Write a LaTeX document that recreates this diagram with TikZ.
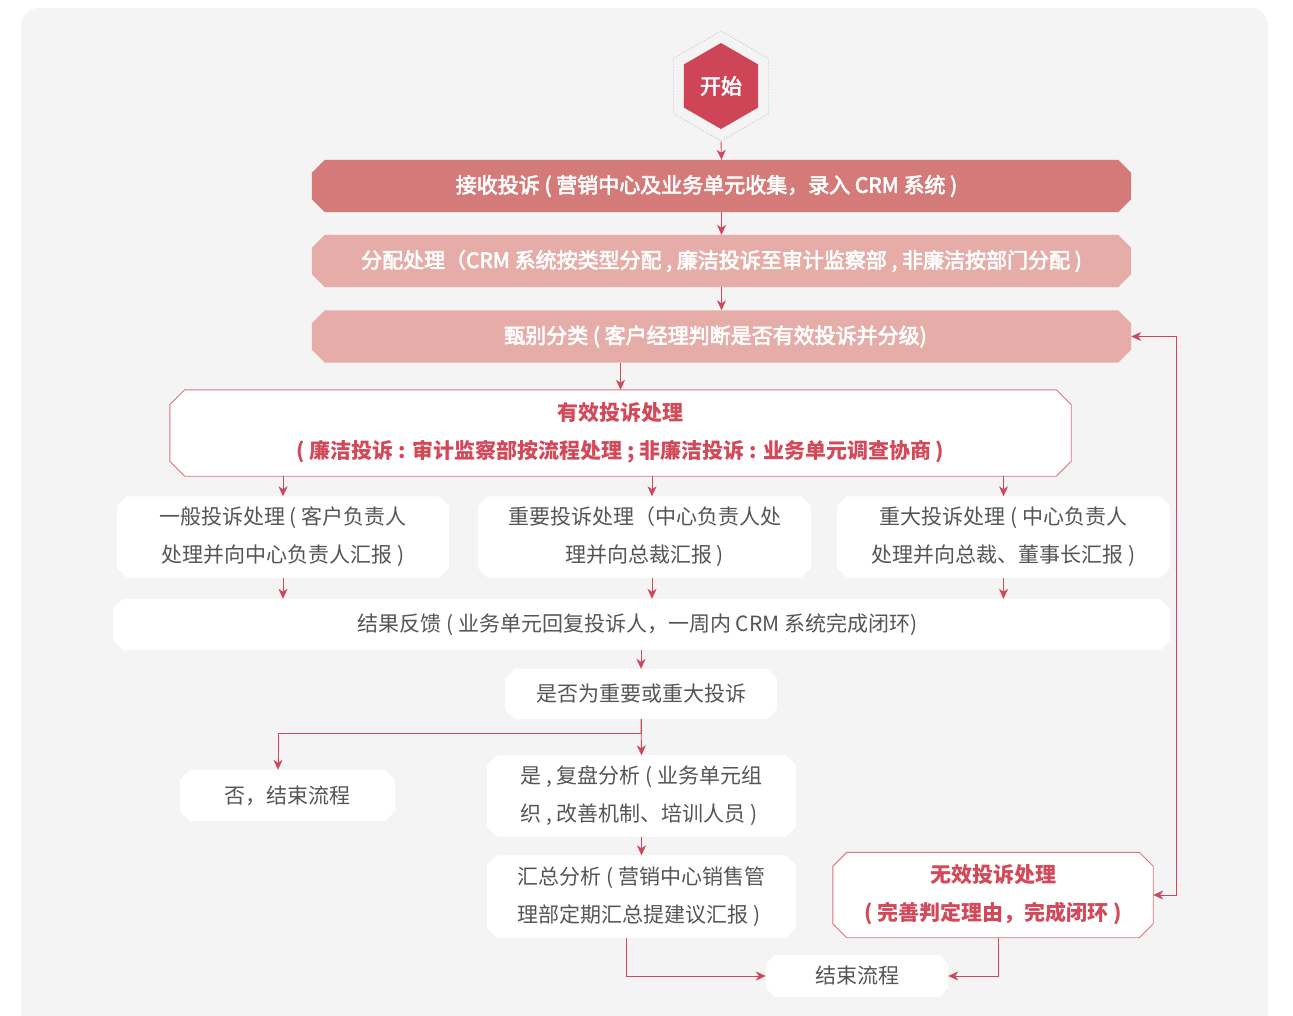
\documentclass[tikz,border=0pt]{standalone}
\usepackage{fontspec}
\setmainfont{Noto Sans CJK SC}
\newfontfamily\medfont{Noto Sans CJK SC}[FakeBold=3]
\usetikzlibrary{shapes.geometric,arrows.meta}
\definecolor{bgc}{HTML}{F4F4F4}
\definecolor{darkpink}{HTML}{D47A79}
\definecolor{lightpink}{HTML}{E6ACA8}
\definecolor{linec}{HTML}{D0465C}
\definecolor{redtext}{HTML}{D24A5A}
\definecolor{bordc}{HTML}{DB7580}
\definecolor{graytext}{HTML}{555555}
\definecolor{hexc}{HTML}{CE4558}
\pgfdeclarelayer{bgzero}
\pgfdeclarelayer{bgone}
\pgfsetlayers{bgzero,bgone,main}
\tikzset{
  box/.style={rectangle, inner sep=0pt, text=graytext, align=center, font=\fontsize{21}{38}\selectfont},
  pinkbox/.style={box, text=white, font=\fontsize{21}{38}\selectfont\medfont},
  redbox/.style={box, text=redtext, font=\fontsize{21}{38}\selectfont\bfseries},
  whitefill/.style={fill=white},
  redframe/.style={fill=white, draw=bordc, line width=0.9pt},
  conn/.style={draw=linec, line width=0.9pt, -{Stealth[length=10pt,width=9pt,inset=3pt]}},
  conn2/.style={draw=linec, line width=0.9pt, {Stealth[length=10pt,width=9pt,inset=3pt]}-{Stealth[length=10pt,width=9pt,inset=3pt]}}
}
\newcommand\chamf[3]{%
  \path[#3] ([xshift=#2]#1.north west) -- ([xshift=-#2]#1.north east)
    -- ([yshift=-#2]#1.north east) -- ([yshift=#2]#1.south east)
    -- ([xshift=-#2]#1.south east) -- ([xshift=#2]#1.south west)
    -- ([yshift=#2]#1.south west) -- ([yshift=-#2]#1.north west) -- cycle;}
\begin{document}
\begin{tikzpicture}[x=1pt,y=-1pt]
\useasboundingbox (0,0) rectangle (1293,1016);
\begin{pgfonlayer}{bgzero}
\fill[bgc, rounded corners=18pt] (21,8) rectangle (1268,1040);
\end{pgfonlayer}
% start
\node[regular polygon, regular polygon sides=6, shape border rotate=30, minimum size=110pt, draw=gray!40, dash pattern=on 1.5pt off 1.5pt, line width=0.7pt, inner sep=0pt] (startout) at (721,86) {};
\node[regular polygon, regular polygon sides=6, shape border rotate=30, minimum size=86pt, fill=hexc, text=white, inner sep=0pt, font=\fontsize{21}{25}\selectfont\medfont] (start) at (721,86) {开始};
% top boxes
\node[pinkbox, minimum width=819pt, minimum height=52pt] (b1) at (721.5,186) {\kern-30pt 接收投诉 ( 营销中心及业务单元收集，录入 CRM 系统 )};
\node[pinkbox, minimum width=819pt, minimum height=52pt] (b2) at (721.5,261) {分配处理（CRM 系统按类型分配 , 廉洁投诉至审计监察部 , 非廉洁按部门分配 )};
\node[pinkbox, minimum width=819pt, minimum height=52pt] (b3) at (721.5,336.5) {\kern-12pt 甄别分类 ( 客户经理判断是否有效投诉并分级)};
% valid
\node[redbox, minimum width=901pt, minimum height=86pt] (b4) at (620.5,433) {有效投诉处理\\( 廉洁投诉 : 审计监察部按流程处理 ; 非廉洁投诉 : 业务单元调查协商 )};
\node[box, minimum width=332pt, minimum height=81pt] (b5a) at (283,537) {一般投诉处理 ( 客户负责人\\处理并向中心负责人汇报 )};
\node[box, minimum width=333pt, minimum height=81pt] (b5b) at (644.5,537) {重要投诉处理（中心负责人处\\理并向总裁汇报 )};
\node[box, minimum width=333pt, minimum height=81pt] (b5c) at (1003.5,537) {重大投诉处理 ( 中心负责人\\处理并向总裁、董事长汇报 )};
\node[box, minimum width=1057pt, minimum height=51pt] (b6) at (641.5,624.5) {\kern-8pt 结果反馈 ( 业务单元回复投诉人，一周内 CRM 系统完成闭环)};
\node[box, minimum width=272pt, minimum height=50pt] (b7) at (641,694) {是否为重要或重大投诉};
\node[box, minimum width=215pt, minimum height=51pt] (b8) at (287.5,795.5) {否，结束流程};
\node[box, minimum width=309pt, minimum height=81pt, align=left] (b9) at (641.5,796) {是 , 复盘分析 ( 业务单元组\\织 , 改善机制、培训人员 )};
\node[box, minimum width=309pt, minimum height=82pt, align=left] (b10) at (641.5,896.5) {汇总分析 ( 营销中心销售管\\理部定期汇总提建议汇报 )};
\node[redbox, minimum width=320pt, minimum height=85pt] (b11) at (993,895) {无效投诉处理\\( 完善判定理由，完成闭环 )};
\node[box, minimum width=182pt, minimum height=42pt] (b12) at (857,976) {结束流程};
% box outlines
\begin{pgfonlayer}{bgone}
\chamf{b1}{13pt}{fill=darkpink}
\chamf{b2}{13pt}{fill=lightpink}
\chamf{b3}{13pt}{fill=lightpink}
\chamf{b4}{15pt}{redframe}
\chamf{b5a}{10pt}{whitefill}
\chamf{b5b}{10pt}{whitefill}
\chamf{b5c}{10pt}{whitefill}
\chamf{b6}{10pt}{whitefill}
\chamf{b7}{10pt}{whitefill}
\chamf{b8}{10pt}{whitefill}
\chamf{b9}{10pt}{whitefill}
\chamf{b10}{10pt}{whitefill}
\chamf{b11}{14pt}{redframe}
\chamf{b12}{9pt}{whitefill}
\end{pgfonlayer}
% connectors
\draw[conn] (startout.south) -- (b1.north);
\draw[conn] (b1.south) -- (b2.north);
\draw[conn] (b2.south) -- (b3.north);
\draw[conn] (b4.north |- b3.south) -- (b4.north);
\draw[conn] (b5a.north |- b4.south) -- (b5a.north);
\draw[conn] ([xshift=7.5pt]b5b.north |- b4.south) -- ([xshift=7.5pt]b5b.north);
\draw[conn] (b5c.north |- b4.south) -- (b5c.north);
\draw[conn] (b5a.south) -- (b5a.south |- b6.north);
\draw[conn] ([xshift=7.5pt]b5b.south) -- ([xshift=7.5pt]b5b.south |- b6.north);
\draw[conn] (b5c.south) -- (b5c.south |- b6.north);
\draw[conn] (b7.north |- b6.south) -- (b7.north);
\draw[conn] (b7.south) -- (b9.north);
\draw[conn] (b7.south) -- ++(0,14) -| ([xshift=-9.5pt]b8.north);
\draw[conn] (b9.south) -- (b10.north);
\draw[conn] ([xshift=-15.5pt]b10.south) |- (b12.west);
\draw[conn] ([xshift=5pt]b11.south) |- (b12.east);
\draw[conn2] (b11.east) -- ++(23,0) |- (b3.east);
\end{tikzpicture}
\end{document}
